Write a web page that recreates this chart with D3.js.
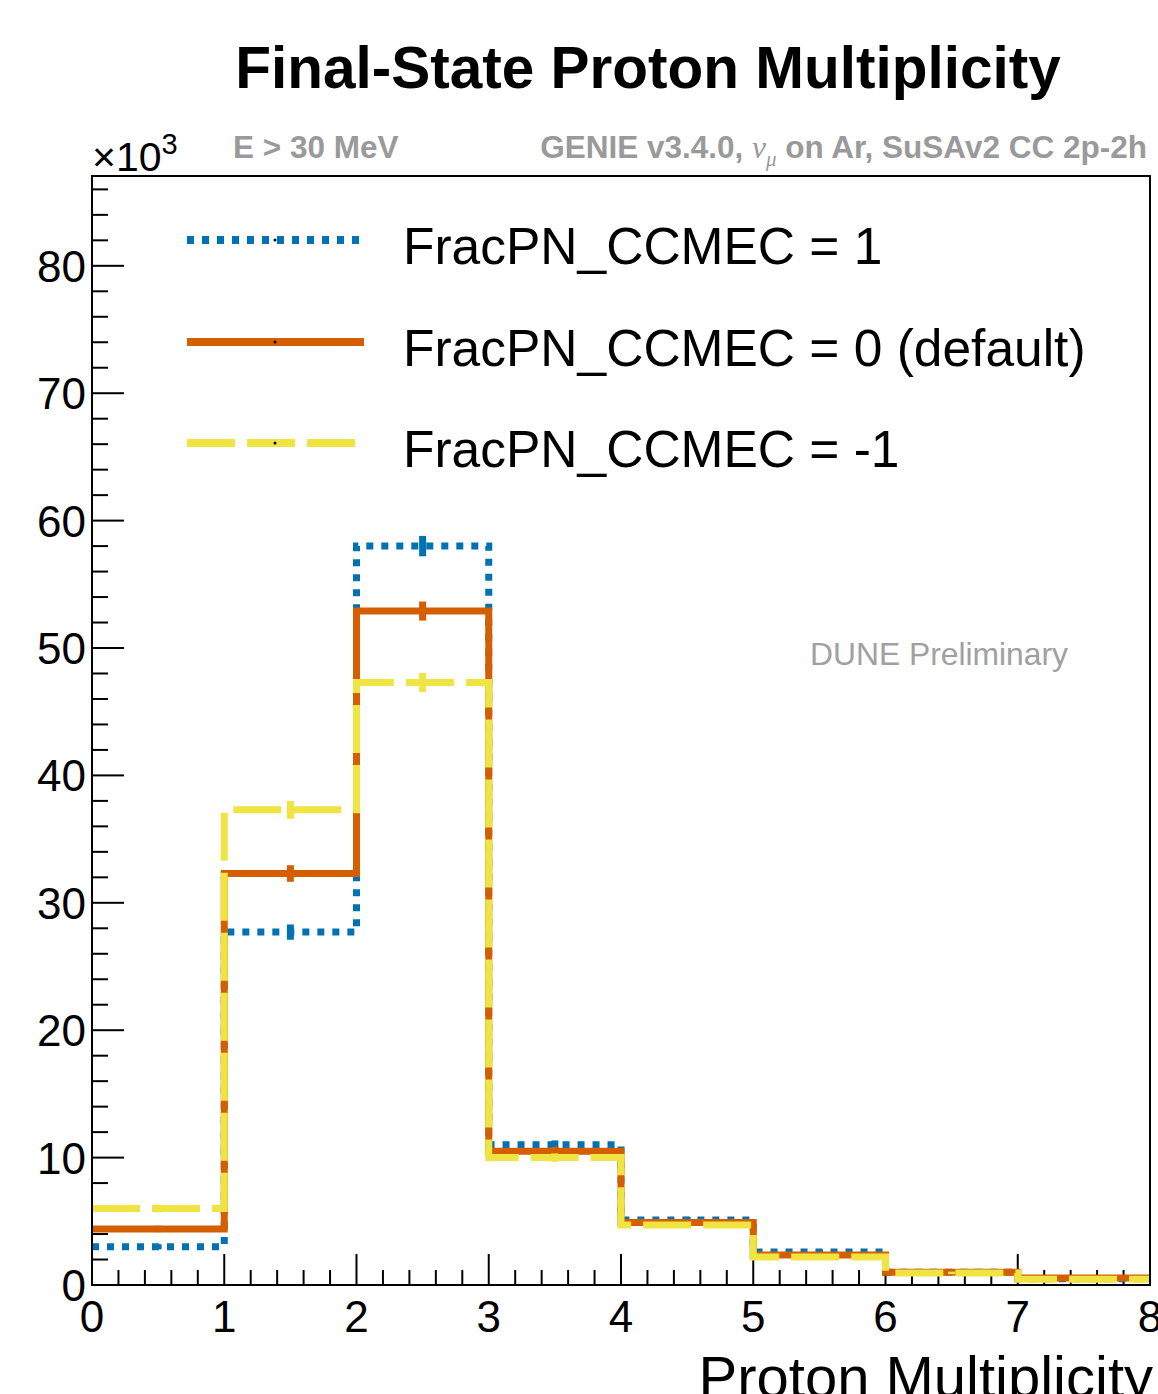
<!DOCTYPE html>
<html>
<head>
<meta charset="utf-8">
<script src="https://cdn.jsdelivr.net/npm/d3@7"></script>
<style>
  body { margin: 0; background: #fff; }
  svg text { font-family: "Liberation Sans", Arial, Helvetica, sans-serif; }
</style>
</head>
<body>
<div id="chart"></div>
<script>
// Bin edges 0..8, values in units of 10^3 events
const binEdges = [0, 1, 2, 3, 4, 5, 6, 7, 8];
const fracPlus1 = [3.0, 27.7, 58.0, 11.0, 5.1, 2.6, 1.0, 0.5];
const fracZero = [4.4, 32.3, 52.9, 10.5, 4.9, 2.35, 1.0, 0.55];
const fracMinus1 = [6.0, 37.3, 47.3, 10.0, 4.7, 2.2, 0.95, 0.45];
const errPlus1 = [0.2, 0.6, 0.8, 0.35, 0.25, 0.17, 0.1, 0.07];
const errZero = [0.25, 0.65, 0.75, 0.35, 0.24, 0.16, 0.1, 0.07];
const errMinus1 = [0.3, 0.7, 0.75, 0.33, 0.23, 0.15, 0.1, 0.07];
const seriesNames = ["FracPN_CCMEC = 1", "FracPN_CCMEC = 0 (default)", "FracPN_CCMEC = -1"];
const yTicks = [0, 10, 20, 30, 40, 50, 60, 70, 80];
const xTicks = [0, 1, 2, 3, 4, 5, 6, 7, 8];

const width = 1158, height = 1394;
const margin = { top: 176, right: 8, bottom: 109, left: 92 };

const svg = d3.select("#chart").append("svg")
  .attr("width", width)
  .attr("height", height);

const x = d3.scaleLinear().domain([0, 8]).range([margin.left, width - margin.right]);
const y = d3.scaleLinear().domain([0, 87.05]).range([height - margin.bottom, margin.top]);

const series = [
  { name: seriesNames[0], vals: fracPlus1, errs: errPlus1, color: "#0072B2", dash: "7,8" },
  { name: seriesNames[1], vals: fracZero, errs: errZero, color: "#D55E00", dash: null },
  { name: seriesNames[2], vals: fracMinus1, errs: errMinus1, color: "#F0E442", dash: "48,12" }
];

// Title
svg.append("text")
  .attr("x", 648).attr("y", 88)
  .attr("text-anchor", "middle")
  .style("font-size", "58.5px").style("font-weight", "bold")
  .text("Final-State Proton Multiplicity");

// Header labels
svg.append("text")
  .attr("x", 233).attr("y", 158)
  .style("font-size", "31.5px").style("font-weight", "bold").attr("fill", "#9a9a9a")
  .text("E > 30 MeV");

const genie = svg.append("text")
  .attr("x", 1147).attr("y", 158)
  .attr("text-anchor", "end")
  .style("font-size", "31.5px").style("font-weight", "bold").attr("fill", "#9a9a9a");
genie.append("tspan").text("GENIE v3.4.0, ");
genie.append("tspan").style("font-family", "'Liberation Serif', serif")
  .style("font-style", "italic").style("font-weight", "normal").text("ν");
genie.append("tspan").style("font-family", "'Liberation Serif', serif")
  .style("font-style", "italic").style("font-weight", "normal")
  .style("font-size", "21px").attr("dy", 8).text("μ");
genie.append("tspan").attr("dy", -8).text(" on Ar, SuSAv2 CC 2p-2h");

// x10^3
const mult = svg.append("text").attr("x", 92).attr("y", 171).style("font-size", "41px");
mult.append("tspan").text("×10");
mult.append("tspan").attr("dy", -17).style("font-size", "29px").text("3");

svg.append("text")
  .attr("x", 810).attr("y", 665)
  .style("font-size", "31.8px").attr("fill", "#a0a0a0")
  .text("DUNE Preliminary");

// Axes ticks
const axisG = svg.append("g");
const minorY = d3.range(0, 87, 2);
axisG.selectAll(".ymin").data(minorY).join("line")
  .attr("x1", x(0)).attr("x2", d => x(0) + (d % 10 === 0 ? 32 : 16))
  .attr("y1", d => y(d)).attr("y2", d => y(d))
  .attr("stroke", "#000").attr("stroke-width", 2);
axisG.selectAll(".ylab").data(yTicks).join("text")
  .attr("x", 86).attr("y", d => y(d) + 16)
  .attr("text-anchor", "end").style("font-size", "44px")
  .text(d => d);

const minorX = d3.range(0, 40).map(i => i / 5);
axisG.selectAll(".xmin").data(minorX).join("line")
  .attr("x1", d => x(d)).attr("x2", d => x(d))
  .attr("y1", y(0)).attr("y2", (d, i) => y(0) - (i % 5 === 0 ? 31 : 15))
  .attr("stroke", "#000").attr("stroke-width", 2);
axisG.selectAll(".xlab").data(xTicks).join("text")
  .attr("x", d => x(d)).attr("y", 1332)
  .attr("text-anchor", "middle").style("font-size", "44px")
  .text(d => d);

svg.append("text")
  .attr("x", 1153).attr("y", 1397)
  .attr("text-anchor", "end").style("font-size", "58px")
  .text("Proton Multiplicity");

// Histograms
const stepPath = vals => {
  let p = `M${x(binEdges[0])},${y(vals[0])}`;
  vals.forEach((v, i) => {
    if (i > 0) p += `V${y(v)}`;
    p += `H${x(binEdges[i + 1])}`;
  });
  return p;
};

const histG = svg.append("g");
series.forEach(s => {
  histG.append("path")
    .attr("d", stepPath(s.vals))
    .attr("fill", "none")
    .attr("stroke", s.color)
    .attr("stroke-width", 7)
    .attr("stroke-dasharray", s.dash);
  histG.selectAll(null).data(s.vals).join("line")
    .attr("x1", (d, i) => x(i + 0.5)).attr("x2", (d, i) => x(i + 0.5))
    .attr("y1", (d, i) => y(d - s.errs[i])).attr("y2", (d, i) => y(d + s.errs[i]))
    .attr("stroke", s.color).attr("stroke-width", 7);
});

// Frame
svg.append("rect")
  .attr("x", x(0)).attr("y", y(87.05))
  .attr("width", x(8) - x(0)).attr("height", y(0) - y(87.05))
  .attr("fill", "none").attr("stroke", "#000").attr("stroke-width", 2);

// Legend
const legend = svg.append("g");
const legY = [240, 342, 443];
series.forEach((s, i) => {
  legend.append("line")
    .attr("x1", 187).attr("x2", s.dash === "48,12" ? 362 : 364)
    .attr("y1", legY[i]).attr("y2", legY[i])
    .attr("stroke", s.color).attr("stroke-width", 8)
    .attr("stroke-dasharray", s.dash);
  legend.append("circle")
    .attr("cx", 275).attr("cy", legY[i]).attr("r", 1.5).attr("fill", "#000");
  legend.append("text")
    .attr("x", 403).attr("y", legY[i] + 24)
    .style("font-size", "51.5px")
    .text(s.name);
});
</script>
</body>
</html>
